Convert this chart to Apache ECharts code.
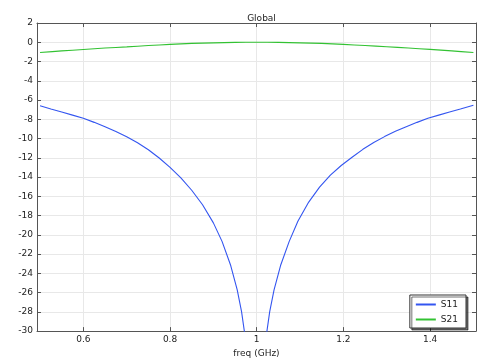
<!DOCTYPE html>
<html>
<head>
<meta charset="utf-8">
<script src="https://cdn.jsdelivr.net/npm/echarts@6/dist/echarts.min.js"></script>
<style>
html,body{margin:0;padding:0;background:#fff;}
#chart{width:483px;height:363px;}
</style>
</head>
<body>
<div id="chart"></div>
<script>
// Data
var titleText = 'Global';
var xName = 'freq (GHz)';
var xTickValues = [0.6, 0.8, 1.0, 1.2, 1.4];
var xTickLabels = ['0.6', '0.8', '1', '1.2', '1.4'];

var s11Freq = [0.5,0.525,0.55,0.575,0.6,0.625,0.65,0.675,0.7,0.725,0.75,0.775,0.8,0.825,0.85,0.875,0.9,0.92,0.94,0.955,0.965,0.975,0.985,0.9925,0.9975,
               1.0025,1.01,1.02,1.03,1.04,1.055,1.075,1.095,1.12,1.145,1.17,1.195,1.22,1.245,1.27,1.295,1.32,1.345,1.37,1.395,1.42,1.445,1.47,1.5];
var s11Db = [-6.6,-6.94,-7.25,-7.57,-7.9,-8.32,-8.78,-9.26,-9.81,-10.44,-11.16,-12.02,-13.0,-14.09,-15.37,-16.88,-18.76,-20.68,-23.19,-25.72,-27.97,-31.13,-36.2,-44.2,-70,
             -44.2,-36.2,-31.13,-27.97,-25.72,-23.19,-20.68,-18.6,-16.6,-15.05,-13.8,-12.8,-11.95,-11.12,-10.42,-9.8,-9.25,-8.77,-8.32,-7.9,-7.57,-7.25,-6.94,-6.55];

var s21Freq = [0.50,0.55,0.60,0.65,0.70,0.75,0.80,0.85,0.90,0.95,1.00,1.05,1.10,1.15,1.20,1.25,1.30,1.35,1.40,1.45,1.50];
var s21Db = [-1.06,-0.9,-0.75,-0.6,-0.48,-0.34,-0.22,-0.12,-0.06,-0.015,0,-0.015,-0.06,-0.12,-0.22,-0.34,-0.46,-0.6,-0.74,-0.9,-1.06];

var seriesNames = ['S11', 'S21'];

function pairs(xs, ys) { return xs.map(function (x, i) { return [x, ys[i]]; }); }

var FONT = 'DejaVu Sans';
var axisColor = '#555';
var chart = echarts.init(document.getElementById('chart'), null, {renderer: 'canvas'});

var xMin = 0.493, xMax = 1.506;
var commonX = {
  type: 'value', min: xMin, max: xMax,
  axisLine: {show: true, onZero: false, lineStyle: {color: axisColor, width: 1}},
  axisTick: {show: true, inside: true, length: 4, customValues: xTickValues, lineStyle: {color: axisColor}},
  minorTick: {show: false}
};

chart.setOption({
  animation: false,
  backgroundColor: '#fff',
  title: {
    text: titleText, left: 256.5, top: 9, textAlign: 'center',
    textStyle: {fontFamily: FONT, fontSize: 9, fontWeight: 'normal', color: '#222'}
  },
  grid: {left: 37, top: 23, width: 439, height: 315, containLabel: false},
  legend: {
    data: seriesNames,
    orient: 'vertical',
    right: 17, bottom: 35,
    itemWidth: 20, itemHeight: 2, icon: 'rect',
    itemGap: 6,
    padding: [5, 8, 4, 6],
    backgroundColor: '#fff',
    borderColor: '#333', borderWidth: 1, borderRadius: 0,
    shadowColor: 'rgba(0,0,0,0.55)', shadowOffsetX: 2, shadowOffsetY: 2, shadowBlur: 0,
    textStyle: {fontFamily: FONT, fontSize: 9, color: '#222', padding: [0,0,0,0]}
  },
  xAxis: [
    Object.assign({}, commonX, {
      position: 'bottom',
      name: xName, nameLocation: 'middle', nameGap: 14,
      nameTextStyle: {fontFamily: FONT, fontSize: 9, color: '#222'},
      axisLabel: {show: true, margin: 4, customValues: xTickValues,
        formatter: function (v) { var i = xTickValues.findIndex(function (t) { return Math.abs(t - v) < 1e-6; }); return i >= 0 ? xTickLabels[i] : ''; },
        fontFamily: FONT, fontSize: 9, color: '#222'},
      splitLine: {show: true, lineStyle: {color: '#e8e8e8', width: 1}}
    }),
    Object.assign({}, commonX, {
      position: 'top',
      axisLabel: {show: false},
      splitLine: {show: false}
    })
  ],
  yAxis: [
    {
      type: 'value', min: -30, max: 2, interval: 2, position: 'left',
      axisLine: {show: true, onZero: false, lineStyle: {color: axisColor, width: 1}},
      axisTick: {show: true, inside: true, length: 4, lineStyle: {color: axisColor}},
      axisLabel: {show: true, margin: 4, fontFamily: FONT, fontSize: 9, color: '#222'},
      splitLine: {show: true, lineStyle: {color: '#e8e8e8', width: 1}}
    },
    {
      type: 'value', min: -30, max: 2, interval: 2, position: 'right',
      axisLine: {show: true, onZero: false, lineStyle: {color: axisColor, width: 1}},
      axisTick: {show: true, inside: true, length: 4, lineStyle: {color: axisColor}},
      axisLabel: {show: false},
      splitLine: {show: false}
    }
  ],
  series: [
    {
      name: seriesNames[0], type: 'line', xAxisIndex: 0, yAxisIndex: 0,
      data: pairs(s11Freq, s11Db), showSymbol: false, symbol: 'none', smooth: false, clip: true,
      lineStyle: {color: '#3355f0', width: 1.1}, itemStyle: {color: '#3355f0'}
    },
    {
      name: seriesNames[1], type: 'line', xAxisIndex: 0, yAxisIndex: 0,
      data: pairs(s21Freq, s21Db), showSymbol: false, symbol: 'none', smooth: 0.3, clip: true,
      lineStyle: {color: '#33c233', width: 1.1}, itemStyle: {color: '#33c233'}
    }
  ]
});
</script>
</body>
</html>
